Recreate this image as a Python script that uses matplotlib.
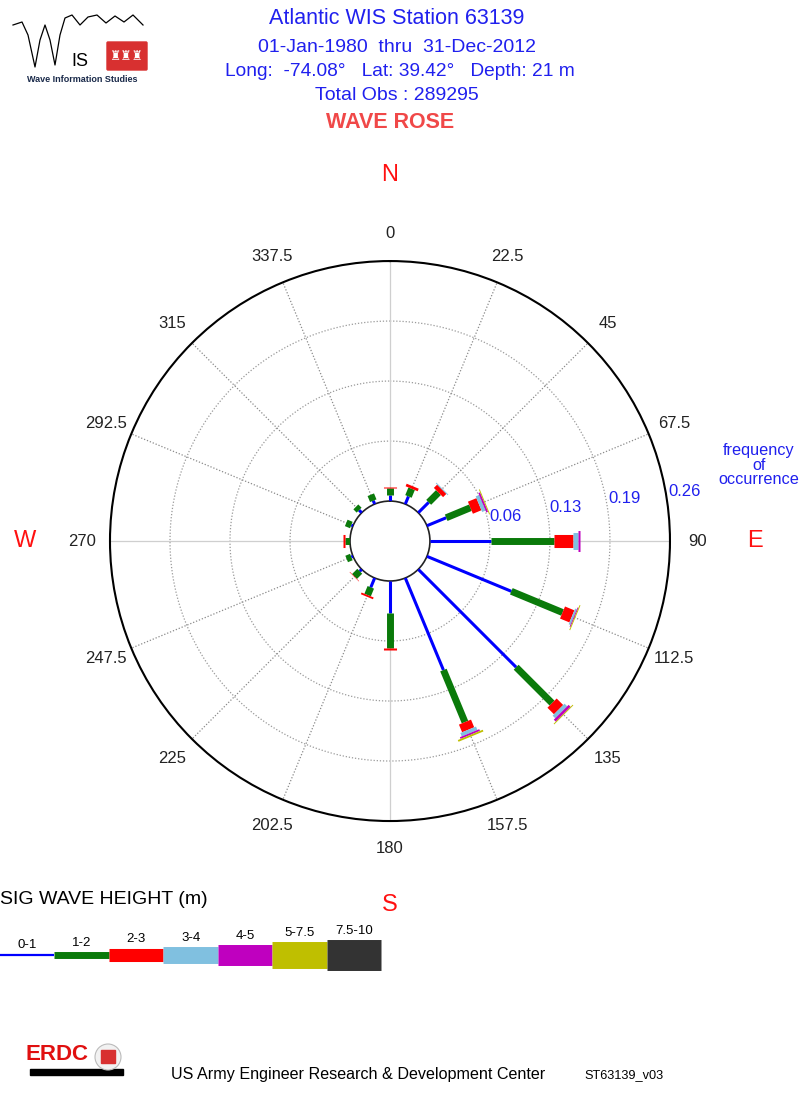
import numpy as np
import matplotlib
matplotlib.use("Agg")
import matplotlib.pyplot as plt
from matplotlib.patches import Rectangle, FancyBboxPatch

plt.rcParams['font.family'] = ['Liberation Sans', 'DejaVu Sans']

# wave directions (deg, coming from) and frequency of occurrence per height class
directions = [0, 22.5, 45, 67.5, 90, 112.5, 135, 157.5,
              180, 202.5, 225, 247.5, 270, 292.5, 315, 337.5]
dir_labels = ['0', '22.5', '45', '67.5', '90', '112.5', '135', '157.5',
              '180', '202.5', '225', '247.5', '270', '292.5', '315', '337.5']
h_0_1 = [0.0065, 0.009, 0.016, 0.0226, 0.066, 0.099, 0.150, 0.108,
         0.035, 0.011, 0.003, 0.002, 0.0005, 0.002, 0.004, 0.004]
h_1_2 = [0.0072, 0.009, 0.015, 0.0284, 0.068, 0.060, 0.055, 0.061,
         0.038, 0.009, 0.008, 0.0055, 0.005, 0.006, 0.005, 0.007]
h_2_3 = [0.0018, 0.003, 0.005, 0.010, 0.021, 0.011, 0.010, 0.009,
         0.002, 0.002, 0.0005, 0.0, 0.0025, 0.0, 0.0, 0.0]
h_3_4 = [0.0, 0.0, 0.001, 0.004, 0.005, 0.002, 0.004, 0.004,
         0.0, 0.0, 0.0, 0.0, 0.0, 0.0, 0.0, 0.0]
h_4_5 = [0.0, 0.0, 0.0, 0.002, 0.002, 0.001, 0.003, 0.002,
         0.0, 0.0, 0.0, 0.0, 0.0, 0.0, 0.0, 0.0]
h_5_75 = [0.0, 0.0, 0.0, 0.001, 0.0, 0.001, 0.001, 0.002,
          0.0, 0.0, 0.0, 0.0, 0.0, 0.0, 0.0, 0.0]
h_75_10 = [0.0] * 16

classes = ['0-1', '1-2', '2-3', '3-4', '4-5', '5-7.5', '7.5-10']
class_colors = ['#0000ff', '#0a7a0a', '#ff0000', '#80c0e0', '#bf00bf', '#bfbf00', '#333333']
class_widths = [2.2, 5.0, 9.4, 12.2, 15.1, 19.4, 22.3]

rings = [0.065, 0.13, 0.195, 0.26]
ring_labels = ['0.06', '0.13', '0.19', '0.26']

fig = plt.figure(figsize=(8.04, 10.95), dpi=100)

# background axes in pixel coordinates for text / legend
bg = fig.add_axes([0, 0, 1, 1])
bg.set_xlim(0, 804)
bg.set_ylim(1095, 0)
bg.axis('off')

blue_txt = '#2020ee'
bg.text(397, 19, 'Atlantic WIS Station 63139', color=blue_txt, fontsize=15.5, ha='center', va='center')
bg.text(397, 48, '01-Jan-1980  thru  31-Dec-2012', color=blue_txt, fontsize=14, ha='center', va='center')
bg.text(400, 72, 'Long:  -74.08\u00b0   Lat: 39.42\u00b0   Depth: 21 m', color=blue_txt, fontsize=13.8,
        ha='center', va='center')
bg.text(397, 95, 'Total Obs : 289295', color=blue_txt, fontsize=14, ha='center', va='center')
bg.text(390, 123, 'WAVE ROSE', color='#f04848', fontsize=15.5, fontweight='bold', ha='center', va='center')

# WIS logo (rough sketch)
wx = [13, 22, 28, 35, 40, 45, 50, 55, 60, 65, 72, 80, 88, 97, 106, 115, 124, 133, 143]
wy = [25, 22, 35, 67, 40, 25, 40, 65, 35, 18, 15, 25, 17, 15, 23, 16, 22, 15, 25]
bg.plot(wx, wy, color='black', lw=0.9)
bg.text(80, 62, 'IS', fontsize=13, ha='center', va='center', color='black')
bg.add_patch(FancyBboxPatch((108, 43), 38, 26, boxstyle='round,pad=1', color='#d83030'))
bg.text(127, 57, '\u265c\u265c\u265c', fontsize=9, ha='center', va='center', color='white')
bg.text(82, 80, 'Wave Information Studies', fontsize=6.5, fontweight='bold', color='#1a2a4a',
        ha='center', va='center')

# footer
bg.text(57, 1055, 'ERDC', fontsize=16, fontweight='bold', color='#e01010', ha='center', va='center')
bg.add_patch(Rectangle((30, 1069), 93, 6, color='black'))
bg.add_patch(plt.Circle((108, 1057), 13, fc='#f2f2f2', ec='#bbbbbb', lw=0.8))
bg.add_patch(Rectangle((101, 1050), 14, 13, color='#d83030'))
bg.text(358, 1075, 'US Army Engineer Research & Development Center', fontsize=11.6, ha='center', va='center')
bg.text(624, 1075, 'ST63139_v03', fontsize=9.2, ha='center', va='center')

# compass letters
for lab, (x, y) in zip(['N', 'E', 'S', 'W'], [(390, 175), (755, 541), (390, 905), (25, 541)]):
    bg.text(x, y, lab, color='#ff1010', fontsize=17, ha='center', va='center')

bg.text(759, 465, 'frequency\nof\noccurrence', color=blue_txt, fontsize=11.7, ha='center', va='center',
        linespacing=0.95)

# legend
bg.text(0, 900, 'SIG WAVE HEIGHT (m)', fontsize=14, ha='left', va='center')
seg = 54.5
for i, (lab, c, w) in enumerate(zip(classes, class_colors, class_widths)):
    x0 = i * seg
    wl = 1.6 if i == 0 else w
    bg.plot([x0, x0 + seg], [955, 955], color=c, lw=wl, solid_capstyle='butt')
    bg.text(x0 + seg / 2, 955 - wl * 1.389 / 2 - 9, lab, fontsize=9.5, ha='center', va='center')

# polar rose
ax = fig.add_axes([0.1368, 0.2502, 0.6965, 0.5114], projection='polar')
ax.set_theta_zero_location('N')
ax.set_theta_direction(-1)
ax.set_ylim(0, 0.26)
ax.set_rorigin(-0.0433)
ax.grid(False)
ax.set_xticks([])
ax.set_yticks([])
ax.spines['polar'].set_linewidth(1.5)
ax.spines['polar'].set_color('black')
ax.spines['inner'].set_linewidth(1.2)
ax.spines['inner'].set_color('#222222')

tt = np.linspace(0, 2 * np.pi, 400)
for r in rings[:-1]:
    ax.plot(tt, np.full_like(tt, r), color='#9a9a9a', lw=0.9, ls=(0, (1, 1.5)), zorder=1)
for d in directions:
    th = np.deg2rad(d)
    if d % 90 == 0:
        ax.plot([th, th], [0, 0.26], color='#cfcfcf', lw=0.9, zorder=1)
    else:
        ax.plot([th, th], [0, 0.26], color='#8a8a8a', lw=0.9, ls=(0, (1, 1.5)), zorder=1)

for d, lab in zip(directions, dir_labels):
    ax.text(np.deg2rad(d), 0.29, lab, fontsize=12, ha='center', va='center', color='#222222', clip_on=False)

label_angles = [76, 78, 79, 80]
for r, lab, a in zip(rings, ring_labels, label_angles):
    ax.text(np.deg2rad(a), r + 0.003, lab, fontsize=12, color=blue_txt, ha='left', va='center',
            clip_on=False)

data = np.array([h_0_1, h_1_2, h_2_3, h_3_4, h_4_5, h_5_75, h_75_10])
for j, d in enumerate(directions):
    th = np.deg2rad(d)
    start = 0.0
    for i in range(len(classes)):
        v = data[i, j]
        if v > 0:
            ax.plot([th, th], [start, start + v], color=class_colors[i], lw=class_widths[i],
                    solid_capstyle='butt', zorder=3 + i)
        start += v

fig.savefig('out.png', dpi=100)
